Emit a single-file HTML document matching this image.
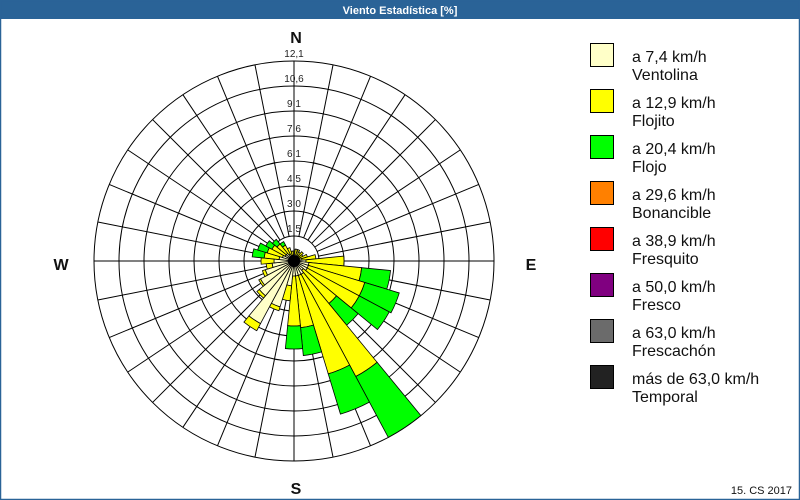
<!DOCTYPE html>
<html><head><meta charset="utf-8">
<style>
html,body{margin:0;padding:0;background:#fff;}
#wrap{position:relative;width:800px;height:500px;overflow:hidden;font-family:"Liberation Sans",sans-serif;}
svg{position:absolute;left:0;top:0;}
</style></head>
<body><div id="wrap">
<svg id="s" width="800" height="500" viewBox="0 0 800 500" xmlns="http://www.w3.org/2000/svg">
<rect x="0" y="0" width="800" height="500" fill="#fff"/>
<rect x="0" y="0" width="800" height="19" fill="#2A6397"/>
<rect x="0.5" y="0.5" width="799" height="499" fill="none" stroke="#2A6397" stroke-width="1.5"/>
<text x="400" y="14" font-size="11" font-weight="bold" fill="#fff" text-anchor="middle" font-family="Liberation Sans, sans-serif">Viento Estadística [%]</text>
<g id="grid"></g>
<g id="bars"></g>
<g font-family="Liberation Sans, sans-serif" font-size="10" fill="#222" text-anchor="middle">
<text x="294" y="57">12,1</text>
<text x="294" y="82">10,6</text>
<text x="294" y="107">9,1</text>
<text x="294" y="132">7,6</text>
<text x="294" y="157">6,1</text>
<text x="294" y="182">4,5</text>
<text x="294" y="207">3,0</text>
<text x="294" y="232">1,5</text>
<text x="296" y="256">0</text>
</g>
<g font-family="Liberation Sans, sans-serif" font-size="16" font-weight="bold" fill="#111" text-anchor="middle">
<text x="296" y="43">N</text>
<text x="296" y="494">S</text>
<text x="61" y="270">W</text>
<text x="531" y="270">E</text>
</g>
<g id="leg" font-family="Liberation Sans, sans-serif" font-size="16" fill="#111">
<rect x="590.5" y="43.5" width="23" height="23" fill="#FFFFC8" stroke="#000"/>
<text x="632" y="62">a 7,4 km/h</text><text x="632" y="80">Ventolina</text>
<rect x="590.5" y="89.5" width="23" height="23" fill="#FFFF00" stroke="#000"/>
<text x="632" y="108">a 12,9 km/h</text><text x="632" y="126">Flojito</text>
<rect x="590.5" y="135.5" width="23" height="23" fill="#00FF00" stroke="#000"/>
<text x="632" y="154">a 20,4 km/h</text><text x="632" y="172">Flojo</text>
<rect x="590.5" y="181.5" width="23" height="23" fill="#FF8000" stroke="#000"/>
<text x="632" y="200">a 29,6 km/h</text><text x="632" y="218">Bonancible</text>
<rect x="590.5" y="227.5" width="23" height="23" fill="#FF0000" stroke="#000"/>
<text x="632" y="246">a 38,9 km/h</text><text x="632" y="264">Fresquito</text>
<rect x="590.5" y="273.5" width="23" height="23" fill="#800080" stroke="#000"/>
<text x="632" y="292">a 50,0 km/h</text><text x="632" y="310">Fresco</text>
<rect x="590.5" y="319.5" width="23" height="23" fill="#6B6B6B" stroke="#000"/>
<text x="632" y="338">a 63,0 km/h</text><text x="632" y="356">Frescachón</text>
<rect x="590.5" y="365.5" width="23" height="23" fill="#222222" stroke="#000"/>
<text x="632" y="384">más de 63,0 km/h</text><text x="632" y="402">Temporal</text>
</g>
<text x="792" y="494" font-size="11" fill="#111" text-anchor="end" font-family="Liberation Sans, sans-serif">15. CS 2017</text>
</svg>
</div>
<script>
(function(){
var NS="http://www.w3.org/2000/svg",cx=294,cy=261;
function el(n,a,p){var e=document.createElementNS(NS,n);for(var k in a)e.setAttribute(k,a[k]);p.appendChild(e);return e;}
var g=document.getElementById('grid');
for(var r=25;r<=200;r+=25)el('circle',{cx:cx,cy:cy,r:r,fill:'none',stroke:'#000','stroke-width':1},g);
for(var i=0;i<32;i++){var a=i*11.25*Math.PI/180;var r0=(i%8==0)?0:25;
el('line',{x1:cx+r0*Math.sin(a),y1:cy-r0*Math.cos(a),x2:cx+200*Math.sin(a),y2:cy-200*Math.cos(a),stroke:'#000','stroke-width':1},g);}
function P(ang,r){var a=ang*Math.PI/180;return (cx+r*Math.sin(a)).toFixed(2)+','+(cy-r*Math.cos(a)).toFixed(2);}
function wedge(a1,a2,r0,r1,col,p){
var d='M'+P(a1,r0)+' L'+P(a1,r1)+' A'+r1+','+r1+' 0 0 1 '+P(a2,r1)+' L'+P(a2,r0);
if(r0>0)d+=' A'+r0+','+r0+' 0 0 0 '+P(a1,r0);
d+=' Z';el('path',{d:d,fill:col,stroke:'#000','stroke-width':0.8},p);}
var data=[[6,10],[6,12],[6,12],[6,10],[6,12],[6,10],[6,14],[8,22],[12,50],[15,68,97],[15,74,110],[15,74,108],[12,55,83],[15,131,200],[15,118,160],[15,67,95],[15,65,88],[25,40],[48,52],[71,79],[45,48],[38,40],[30,33],[22,28],[20,33],[15,30,42],[12,28,38],[10,25,32],[10,22,28],[8,18,22],[6,14],[6,10]];
var cols=['#FFFFC8','#FFFF00','#00FF00'];
var b=document.getElementById('bars');
data.forEach(function(d,i){var c=i*11.25,a1=c-5.625,a2=c+5.625,prev=0;
d.forEach(function(r,j){if(r>prev){wedge(a1,a2,prev,r,cols[j],b);prev=r;}});});
el('circle',{cx:cx,cy:cy,r:6,fill:'#000'},b);
})();
</script>
</body></html>
